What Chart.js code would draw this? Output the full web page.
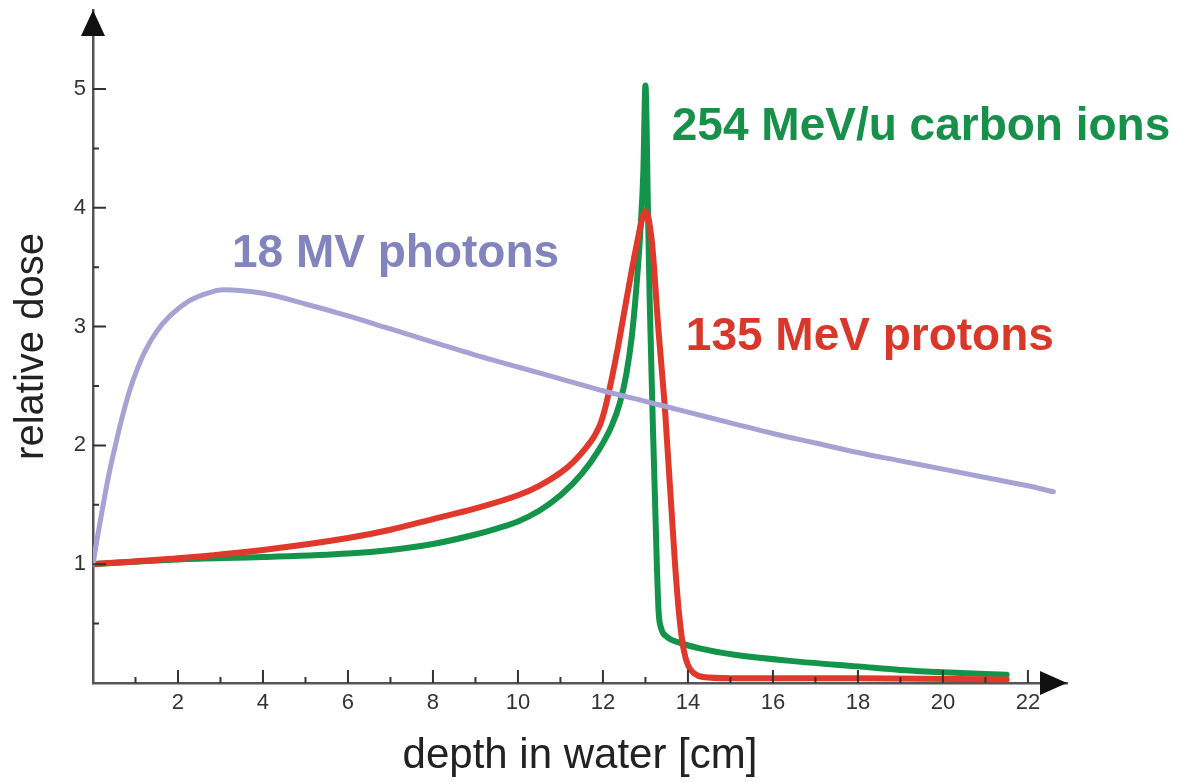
<!DOCTYPE html>
<html>
<head>
<meta charset="utf-8">
<title>Depth dose curves</title>
<script src="https://cdn.jsdelivr.net/npm/chart.js@4/dist/chart.umd.min.js"></script>
<style>
    html, body { margin: 0; padding: 0; background: #fff; }
    canvas { display: block; }
</style>
</head>
<body>
<canvas id="doseChart" width="1187" height="782"></canvas>
<script>
    'use strict';

    // depth [cm] / relative dose
    var photonDepth = [0, 0.1, 0.2, 0.3, 0.4, 0.52, 0.66, 0.87, 1.05, 1.22, 1.5, 1.81, 2.28, 2.68, 3.06, 4, 5, 6, 7, 8, 9, 10, 11, 12, 13, 14, 15, 16, 17, 18, 19, 20, 21, 22, 22.6];
    var photonDose = [1.0, 1.22, 1.42, 1.62, 1.8, 1.99, 2.2, 2.47, 2.65, 2.79, 2.96, 3.09, 3.22, 3.28, 3.31, 3.28, 3.19, 3.09, 2.98, 2.87, 2.76, 2.66, 2.56, 2.46, 2.37, 2.28, 2.19, 2.1, 2.02, 1.94, 1.87, 1.8, 1.73, 1.66, 1.61];

    var protonDepth = [0, 2, 4, 6, 7, 8, 9, 10, 10.5, 11, 11.3, 11.6, 11.8, 11.95, 12.07, 12.2, 12.35, 12.5, 12.65, 12.8, 12.92, 13.0, 13.15, 13.3, 13.46, 13.7, 13.8, 13.9, 14.0, 14.15, 14.35, 15, 18, 21.5];
    var protonDose = [1.0, 1.05, 1.12, 1.22, 1.29, 1.38, 1.47, 1.58, 1.66, 1.77, 1.86, 1.98, 2.08, 2.19, 2.34, 2.55, 2.82, 3.12, 3.42, 3.7, 3.9, 3.97, 3.72, 3.0, 2.3, 0.98, 0.55, 0.28, 0.15, 0.08, 0.05, 0.04, 0.04, 0.03];

    var carbonDepth = [0, 2, 4, 6, 7, 8, 9, 9.5, 10, 10.5, 11, 11.5, 11.9, 12.2, 12.4, 12.55, 12.68, 12.78, 12.88, 12.95, 13.0, 13.06, 13.1, 13.18, 13.27, 13.31, 13.37, 13.5, 13.8, 14.3, 15.06, 16.6, 18, 19, 20, 21.5];
    var carbonDose = [1.0, 1.04, 1.06, 1.09, 1.12, 1.17, 1.25, 1.3, 1.36, 1.45, 1.58, 1.76, 1.96, 2.16, 2.36, 2.6, 2.92, 3.3, 3.8, 4.3, 5.03, 3.97, 3.22, 2.1, 0.98, 0.6, 0.46, 0.39, 0.34, 0.29, 0.24, 0.18, 0.14, 0.11, 0.09, 0.07];

    var seriesNames = ['18 MV photons', '135 MeV protons', '254 MeV/u carbon ions'];
    var lineColors = ['#a6a2d4', '#e0382b', '#14944a'];
    var textColors = ['#8184bd', '#da372b', '#17904a'];
    // where each series name starts (left edge, baseline) in data units
    var labelDepth = [3.27, 13.95, 13.62];
    var labelDose = [3.50, 2.80, 4.57];

    var xTickLabels = [2, 4, 6, 8, 10, 12, 14, 16, 18, 20, 22];
    var yTickLabels = [1, 2, 3, 4, 5];

    var FONT = '"Liberation Sans", Arial, Helvetica, sans-serif';
    var AXIS_COLOR = '#555';

    function toPoints(xs, ys) {
        return xs.map(function (x, i) {
            return {x: x, y: ys[i]};
        });
    }

    function makeDataset(idx, xs, ys, width) {
        return {
            label: seriesNames[idx],
            data: toPoints(xs, ys),
            borderColor: lineColors[idx],
            borderWidth: width,
            pointRadius: 0,
            fill: false,
            cubicInterpolationMode: 'monotone',
            borderCapStyle: 'round',
            borderJoinStyle: 'round'
        };
    }

    // small inside tick marks + arrow heads at the end of both axes
    var axisDecor = {
        id: 'axisDecor',
        afterDraw: function (chart) {
            var ctx = chart.ctx;
            var xs = chart.scales.x;
            var ys = chart.scales.y;
            var area = chart.chartArea;
            var x0 = xs.getPixelForValue(0);
            var y0 = ys.getPixelForValue(0);
            var v, p, len;

            ctx.save();
            ctx.strokeStyle = '#333';
            ctx.lineWidth = 2;
            ctx.beginPath();
            for (v = 1; v <= 22; v++) {
                p = xs.getPixelForValue(v);
                len = (v % 2 === 0) ? 13 : 6;
                ctx.moveTo(p, y0);
                ctx.lineTo(p, y0 - len);
            }
            for (v = 0.5; v <= 5; v += 0.5) {
                p = ys.getPixelForValue(v);
                len = (v % 1 === 0) ? 13 : 6;
                ctx.moveTo(x0, p);
                ctx.lineTo(x0 + len, p);
            }
            ctx.stroke();

            ctx.fillStyle = '#111';
            // x arrow
            ctx.beginPath();
            ctx.moveTo(area.right, y0);
            ctx.lineTo(area.right - 27, y0 - 12);
            ctx.lineTo(area.right - 27, y0 + 12);
            ctx.closePath();
            ctx.fill();
            // y arrow
            ctx.beginPath();
            ctx.moveTo(x0, area.top);
            ctx.lineTo(x0 - 12, area.top + 26);
            ctx.lineTo(x0 + 12, area.top + 26);
            ctx.closePath();
            ctx.fill();
            ctx.restore();
        }
    };

    // series names written next to the curves
    var seriesLabels = {
        id: 'seriesLabels',
        afterDatasetsDraw: function (chart) {
            var ctx = chart.ctx;
            ctx.save();
            ctx.font = 'bold 46px ' + FONT;
            ctx.textAlign = 'left';
            ctx.textBaseline = 'alphabetic';
            seriesNames.forEach(function (name, i) {
                ctx.fillStyle = textColors[i];
                ctx.fillText(name,
                    chart.scales.x.getPixelForValue(labelDepth[i]),
                    chart.scales.y.getPixelForValue(labelDose[i]));
            });
            ctx.restore();
        }
    };

    var ctx = document.getElementById('doseChart').getContext('2d');
    new Chart(ctx, {
        type: 'line',
        data: {
            datasets: [
                makeDataset(0, photonDepth, photonDose, 5),
                makeDataset(1, protonDepth, protonDose, 6),
                makeDataset(2, carbonDepth, carbonDose, 6)
            ]
        },
        options: {
            responsive: false,
            animation: false,
            layout: {
                padding: {top: 10, right: 120, left: 0, bottom: 0}
            },
            plugins: {
                legend: {display: false},
                tooltip: {enabled: false}
            },
            scales: {
                x: {
                    type: 'linear',
                    min: 0,
                    max: 22.92,
                    grid: {display: false, drawTicks: false},
                    border: {display: true, color: AXIS_COLOR, width: 2.5},
                    ticks: {
                        stepSize: 1,
                        includeBounds: false,
                        autoSkip: false,
                        maxRotation: 0,
                        padding: 7,
                        color: '#333',
                        font: {family: FONT, size: 22},
                        callback: function (value) {
                            return xTickLabels.indexOf(value) >= 0 ? String(value) : '';
                        }
                    },
                    title: {
                        display: true,
                        text: 'depth in water [cm]',
                        color: '#222',
                        font: {family: FONT, size: 42},
                        padding: {top: 0, bottom: 0}
                    },
                    afterFit: function (scale) {
                        scale.height = 99;
                        scale.paddingLeft = 0;
                        scale.paddingRight = 0;
                    }
                },
                y: {
                    type: 'linear',
                    min: 0,
                    max: 5.665,
                    grid: {display: false, drawTicks: false},
                    border: {display: true, color: AXIS_COLOR, width: 2.5},
                    ticks: {
                        stepSize: 0.5,
                        includeBounds: false,
                        autoSkip: false,
                        padding: 7,
                        color: '#333',
                        font: {family: FONT, size: 22},
                        callback: function (value) {
                            return yTickLabels.indexOf(value) >= 0 ? String(value) : '';
                        }
                    },
                    title: {
                        display: true,
                        text: 'relative dose',
                        color: '#222',
                        font: {family: FONT, size: 40},
                        padding: {top: 8, bottom: 0}
                    },
                    afterFit: function (scale) {
                        scale.width = 93;
                        scale.paddingTop = 0;
                        scale.paddingBottom = 0;
                    }
                }
            }
        },
        plugins: [axisDecor, seriesLabels]
    });
</script>
</body>
</html>
